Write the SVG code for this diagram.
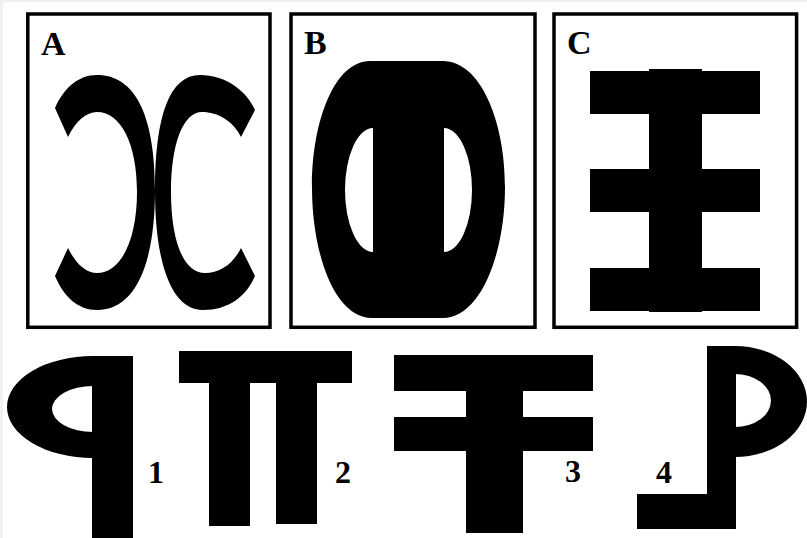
<svg xmlns="http://www.w3.org/2000/svg" width="807" height="538" viewBox="0 0 807 538">
<style>
.frame{fill:none;stroke:#000;stroke-width:3.5}
.ink{fill:#000}
.lbl{font-family:"Liberation Serif","Times New Roman",serif;font-weight:bold;font-size:34px;fill:#000}
.num{font-family:"Liberation Serif","Times New Roman",serif;font-weight:bold;font-size:32px;fill:#000}
</style>
<rect x="0" y="0" width="807" height="538" fill="#fff"/>
<rect x="0" y="0" width="3" height="538" fill="#f0f0f0"/>
<rect x="0" y="0" width="807" height="2" fill="#f0f0f0"/>

<g id="panelA">
<rect class="frame" x="27.8" y="14" width="242.2" height="313.3"/>
<text class="lbl" x="41" y="55">A</text>
<path class="ink" d="M55,108 C64,88 78,75 97,75 C135,75 155,115 155,190 C155,265 135,310 97,310 C78,310 64,297 55,276 L68,248 C76,264 86,273 97,273 C121,273 137,240 137,192 C137,144 121,112 97,112 C86,112 76,121 68,137 Z"/>
<path class="ink" d="M255,110 C246,90 225,75 200,75 C170,75 155,115 155,190 C155,265 172,310 203,310 C228,310 246,297 255,276 L241,248 C233,264 220,273 205,273 C183,273 171,240 171,192 C171,144 183,112 202,112 C218,112 233,121 241,137 Z"/>
</g>

<g id="panelB">
<rect class="frame" x="291" y="14" width="244" height="313.3"/>
<text class="lbl" x="304" y="54">B</text>
<path class="ink" fill-rule="evenodd" d="M370,61 L443,61 C480,61 505,120 505,187 C505,255 480,318 443,318 L372,318 C335,318 312,255 312,187 C312,120 335,61 370,61 Z M373,128 A28,62 0 0 0 373,252 Z M444,128 A28,62 0 0 1 444,252 Z"/>
</g>

<g id="panelC">
<rect class="frame" x="554" y="14" width="242.6" height="313.3"/>
<text class="lbl" x="567" y="54">C</text>
<rect class="ink" x="649" y="69" width="53" height="243"/>
<rect class="ink" x="590" y="71" width="170" height="43"/>
<rect class="ink" x="590" y="169" width="170" height="43"/>
<rect class="ink" x="590" y="268" width="170" height="43"/>
</g>

<g id="figure1">
<path class="ink" d="M93,356 A86,51 0 0 0 93,458 L93,432 A41,23 0 0 1 93,386 Z"/>
<rect class="ink" x="92" y="356" width="41" height="182"/>
<text class="num" x="148" y="483">1</text>
</g>

<g id="figure2">
<rect class="ink" x="179" y="351" width="173" height="32"/>
<rect class="ink" x="209" y="351" width="41" height="175"/>
<rect class="ink" x="276" y="351" width="41" height="173"/>
<text class="num" x="335" y="483">2</text>
</g>

<g id="figure3">
<rect class="ink" x="394" y="355" width="199" height="36"/>
<rect class="ink" x="394" y="417" width="199" height="34"/>
<rect class="ink" x="466" y="355" width="57" height="178"/>
<text class="num" x="565" y="482">3</text>
</g>

<g id="figure4">
<path class="ink" d="M735,346 A72,55.5 0 0 1 735,457 L735,427 A36,26.5 0 0 0 735,374 Z"/>
<rect class="ink" x="707" y="346" width="29" height="183"/>
<rect class="ink" x="637" y="494" width="71" height="35"/>
<text class="num" x="656" y="483">4</text>
</g>
</svg>
